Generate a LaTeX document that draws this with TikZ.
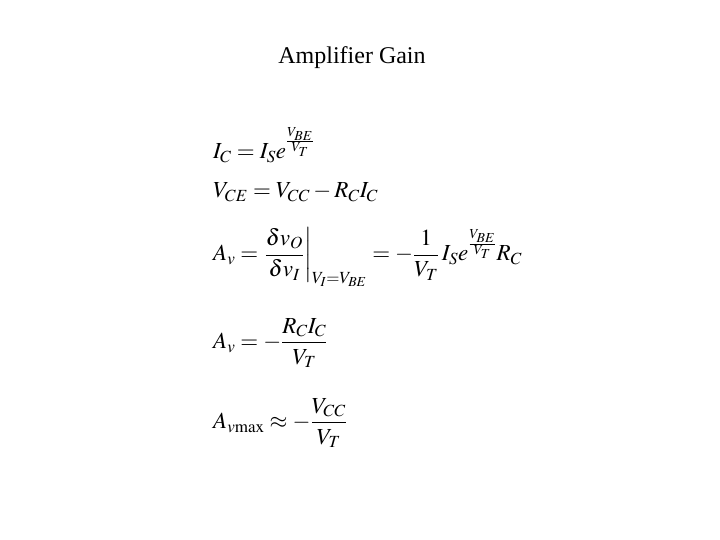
\documentclass[tikz,border=0pt]{standalone}
\usepackage{amsmath}
\usepackage{mathptmx}
\usepackage{fontspec}
\setmainfont{Liberation Serif}
\tikzset{eq/.style={anchor=west,inner sep=0pt,font=\fontsize{23}{28}\selectfont}}
\begin{document}
\begin{tikzpicture}[x=1pt,y=1pt]
\useasboundingbox (0,0) rectangle (720,-540);
\node[font=\fontsize{24}{28}\selectfont] (title) at (352,-58) {Amplifier Gain};
\node[eq] (e1) at (213,-145) {$I_C = I_S e^{\frac{V_{BE}}{V_T}}$};
\node[eq] (e2) at (213,-192) {$V_{CE} = V_{CC} - R_C I_C$};
\node[eq] (e3) at (213,-257) {$A_v = \left.\dfrac{\delta v_O}{\delta v_I}\right|_{V_I=V_{BE}} = -\dfrac{1}{V_T}\, I_S e^{\frac{V_{BE}}{V_T}} R_C$};
\node[eq] (e4) at (213,-343) {$A_v = -\dfrac{R_C I_C}{V_T}$};
\node[eq] (e5) at (213,-423) {$A_{v\mathrm{max}} \approx -\dfrac{V_{CC}}{V_T}$};
\end{tikzpicture}
\end{document}
